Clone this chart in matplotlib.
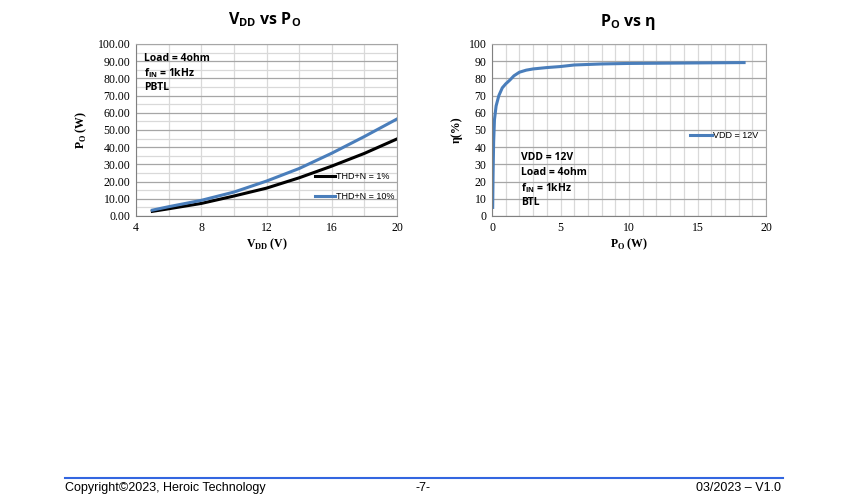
import numpy as np
import matplotlib.pyplot as plt
from matplotlib.ticker import MultipleLocator, FormatStrFormatter

# left chart: VDD vs PO
vdd = [5, 6, 8, 10, 12, 14, 16, 18, 20]
po_thd1 = [2.7, 4.2, 7.3, 11.6, 16.2, 22.2, 29.0, 36.4, 44.8]
po_thd10 = [3.4, 5.4, 9.1, 13.9, 20.3, 27.6, 36.5, 46.2, 56.4]

# right chart: PO vs efficiency
po_eff = [0.05, 0.08, 0.12, 0.18, 0.3, 0.5, 0.75, 1.0, 1.3, 1.6, 2.0, 2.5, 3.0, 4.0, 5.0, 6.0, 8.0, 10.0, 15.0, 18.4]
eff = [5, 25, 43, 56, 64, 70, 74.5, 76.8, 79, 81.5, 83.6, 84.8, 85.5, 86.3, 86.9, 87.8, 88.4, 88.7, 89.0, 89.2]

BLUE = '#4a7ebb'
MAJ = '#a6a6a6'
MIN = '#d9d9d9'
SERIF = 'Liberation Serif'
BOLD_SANS = 'Open Sans'

fig = plt.figure(figsize=(8.5, 5.03), dpi=100)


def style_axes(ax):
    for s in ['top', 'right']:
        ax.spines[s].set_color(MAJ)
        ax.spines[s].set_linewidth(0.8)
    for s in ['left', 'bottom']:
        ax.spines[s].set_color('#808080')
        ax.spines[s].set_linewidth(0.8)
    ax.tick_params(which='both', length=0, labelsize=8.5, pad=4)
    for lbl in ax.get_xticklabels() + ax.get_yticklabels():
        lbl.set_family(SERIF)
    ax.set_axisbelow(True)


# ---- left ----
ax1 = fig.add_axes([136/850, 1-216/503, 261/850, 172/503])
ax1.plot(vdd, po_thd1, color='black', lw=2.2, label='THD+N = 1%')
ax1.plot(vdd, po_thd10, color=BLUE, lw=2.2, label='THD+N = 10%')
ax1.set_xlim(4, 20)
ax1.set_ylim(0, 100)
ax1.xaxis.set_major_locator(MultipleLocator(4))
ax1.xaxis.set_minor_locator(MultipleLocator(2))
ax1.yaxis.set_major_locator(MultipleLocator(10))
ax1.yaxis.set_minor_locator(MultipleLocator(5))
ax1.yaxis.set_major_formatter(FormatStrFormatter('%.2f'))
ax1.grid(which='major', axis='y', color=MAJ, lw=0.9)
ax1.grid(which='minor', axis='y', color=MIN, lw=0.9)
ax1.grid(which='both', axis='x', color=MIN, lw=0.9)
style_axes(ax1)
ax1.set_xlabel(r'V$_\mathregular{DD}$ (V)', family=SERIF, fontsize=8.5, fontweight='bold', labelpad=2)
ax1.set_ylabel(r'P$_\mathregular{O}$ (W)', family=SERIF, fontsize=8.5, fontweight='bold', labelpad=6)
ax1.legend(loc='lower right', bbox_to_anchor=(1.02, 0.04), frameon=False,
           handlelength=2.2, handletextpad=0.1, labelspacing=1.2, prop={'family': 'Liberation Sans', 'size': 6.5})
for i, t in enumerate(['Load = 4ohm', r'f$_\mathregular{IN}$ = 1kHz', 'PBTL']):
    ax1.text(0.03, 0.915 - i * 0.085, t, transform=ax1.transAxes, family=BOLD_SANS,
             fontweight='bold', fontsize=7.5, va='center', ha='left')
fig.text(265/850, 1-20/503, r'V$_\mathregular{DD}$ vs P$_\mathregular{O}$', family=BOLD_SANS,
         fontweight='bold', fontsize=11.5, ha='center', va='center')

# ---- right ----
ax2 = fig.add_axes([492/850, 1-216/503, 274/850, 172/503])
ax2.plot(po_eff, eff, color=BLUE, lw=2.2, label='VDD = 12V')
ax2.set_xlim(0, 20)
ax2.set_ylim(0, 100)
ax2.xaxis.set_major_locator(MultipleLocator(5))
ax2.xaxis.set_minor_locator(MultipleLocator(1))
ax2.yaxis.set_major_locator(MultipleLocator(10))
ax2.grid(which='major', axis='y', color=MAJ, lw=0.9)
ax2.grid(which='both', axis='x', color=MIN, lw=0.9)
style_axes(ax2)
ax2.set_xlabel(r'P$_\mathregular{O}$ (W)', family=SERIF, fontsize=8.5, fontweight='bold', labelpad=2)
ax2.set_ylabel('η(%)', family=SERIF, fontsize=8.5, fontweight='bold', labelpad=4)
ax2.legend(loc='center right', bbox_to_anchor=(1.0, 0.47), frameon=False,
           handlelength=2.4, handletextpad=0.1, prop={'family': 'Liberation Sans', 'size': 6.5})
for i, t in enumerate(['VDD = 12V', 'Load = 4ohm', r'f$_\mathregular{IN}$ = 1kHz', 'BTL']):
    ax2.text(0.105, 0.34 - i * 0.088, t, transform=ax2.transAxes, family=BOLD_SANS,
             fontweight='bold', fontsize=7.5, va='center', ha='left')
fig.text(628/850, 1-22/503, r'P$_\mathregular{O}$ vs η', family=BOLD_SANS,
         fontweight='bold', fontsize=11.5, ha='center', va='center')

# ---- footer ----
fig.add_artist(plt.Line2D([65/850, 783/850], [1-478/503, 1-478/503], color='#3366e0', lw=1.5))
fig.text(65/850, 1-488/503, 'Copyright©2023, Heroic Technology', family='Liberation Sans', fontsize=9, va='center')
fig.text(423/850, 1-488/503, '-7-', family='Liberation Sans', fontsize=9, va='center', ha='center')
fig.text(781/850, 1-488/503, '03/2023 – V1.0', family='Liberation Sans', fontsize=9, va='center', ha='right')

fig.savefig('out.png', dpi=100)
